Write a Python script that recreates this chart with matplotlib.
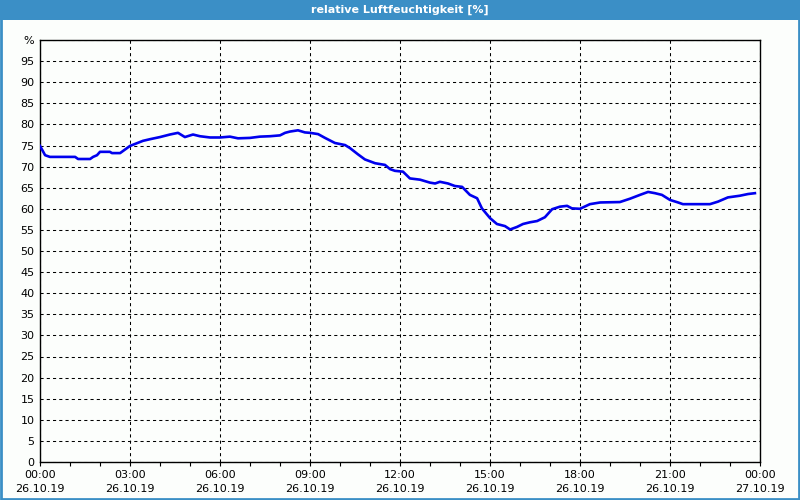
import matplotlib
matplotlib.use('Agg')
import matplotlib.pyplot as plt
from matplotlib.patches import Rectangle

# hours since 26.10.19 00:00 and relative humidity [%]
hours = [0.0, 0.07, 0.17, 0.33, 0.67, 1.0, 1.17, 1.27, 1.67, 1.77, 1.9, 2.0,
         2.33, 2.4, 2.67, 3.0, 3.43, 3.67, 4.0, 4.33, 4.6, 4.83, 5.1, 5.33,
         5.67, 6.0, 6.33, 6.6, 7.0, 7.33, 7.67, 8.0, 8.17, 8.33, 8.6, 8.83,
         9.0, 9.27, 9.5, 9.83, 10.17, 10.33, 10.6, 10.83, 11.17, 11.5, 11.67,
         11.83, 12.1, 12.33, 12.67, 13.0, 13.17, 13.33, 13.6, 13.83, 14.07,
         14.33, 14.57, 14.73, 15.0, 15.23, 15.5, 15.67, 15.9, 16.1, 16.33,
         16.57, 16.83, 17.07, 17.33, 17.57, 17.73, 18.0, 18.33, 18.67, 19.33,
         19.67, 20.0, 20.27, 20.5, 20.73, 21.0, 21.27, 21.43, 22.33, 22.6,
         22.93, 23.33, 23.6, 23.83]
humidity = [74.9, 74.0, 72.7, 72.3, 72.3, 72.3, 72.3, 71.8, 71.8, 72.3, 72.7,
            73.5, 73.5, 73.2, 73.2, 74.9, 76.1, 76.5, 77.0, 77.6, 78.0, 77.0,
            77.6, 77.2, 76.9, 76.9, 77.1, 76.7, 76.8, 77.1, 77.2, 77.4, 78.0,
            78.3, 78.6, 78.1, 78.0, 77.7, 76.8, 75.6, 75.1, 74.4, 72.9, 71.7,
            70.8, 70.4, 69.4, 69.0, 68.8, 67.2, 66.9, 66.2, 66.0, 66.4, 66.0,
            65.4, 65.2, 63.3, 62.5, 60.1, 57.8, 56.4, 55.9, 55.1, 55.7, 56.4,
            56.8, 57.1, 58.0, 59.9, 60.5, 60.7, 60.1, 60.0, 61.1, 61.5, 61.6,
            62.4, 63.3, 64.0, 63.7, 63.3, 62.1, 61.5, 61.1, 61.1, 61.7, 62.7,
            63.1, 63.5, 63.7]

x_ticks = [0, 3, 6, 9, 12, 15, 18, 21, 24]
x_labels = ['00:00\n26.10.19', '03:00\n26.10.19', '06:00\n26.10.19',
            '09:00\n26.10.19', '12:00\n26.10.19', '15:00\n26.10.19',
            '18:00\n26.10.19', '21:00\n26.10.19', '00:00\n27.10.19']
y_ticks = list(range(0, 101, 5))
y_labels = [str(v) for v in y_ticks[:-1]] + ['%']

title = 'relative Luftfeuchtigkeit [%]'
bar_blue = '#3b8fc6'

fig = plt.figure(figsize=(8, 5), dpi=100, facecolor='#fcfefc')

# title bar and window border
fig.patches.append(Rectangle((0, 0.96), 1, 0.04, transform=fig.transFigure,
                             facecolor=bar_blue, edgecolor='none', zorder=0))
fig.patches.append(Rectangle((0.001, 0.002), 0.998, 0.996, transform=fig.transFigure,
                             facecolor='none', edgecolor=bar_blue, linewidth=2, zorder=5))
fig.text(0.5, 0.98, title, ha='center', va='center', color='white',
         fontsize=8, fontweight='bold')

ax = fig.add_axes([0.05, 0.076, 0.90, 0.844])
ax.set_facecolor('#fcfefc')
ax.plot(hours, humidity, color='#0000ee', linewidth=1.9, zorder=3)

ax.set_xlim(0, 24)
ax.set_ylim(0, 100)
ax.set_xticks(x_ticks)
ax.set_xticklabels(x_labels, fontsize=8, linespacing=1.5)
ax.set_xticks(range(0, 25), minor=True)
ax.set_yticks(y_ticks)
ax.set_yticklabels(y_labels, fontsize=8)

ax.tick_params(axis='x', which='both', length=3, width=0.8, pad=3)
ax.tick_params(axis='y', length=0, pad=4)
ax.grid(True, which='major', color='black', linestyle=(0, (3, 3)), linewidth=0.75)

for s in ax.spines.values():
    s.set_linewidth(1.0)
    s.set_color('black')

plt.savefig('out.png', dpi=100, facecolor=fig.get_facecolor())
